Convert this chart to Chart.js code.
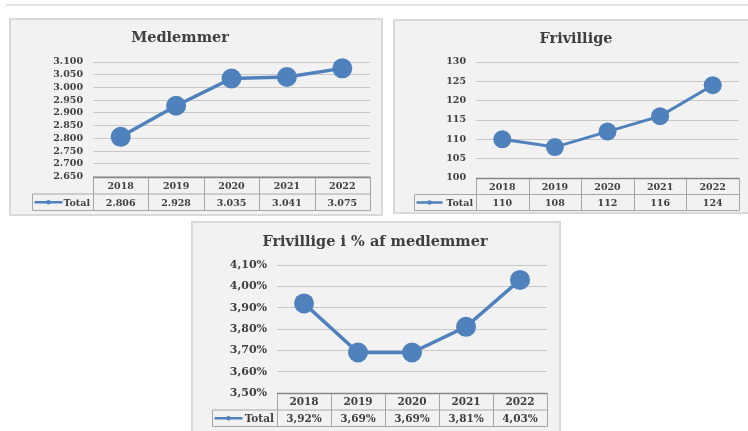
<!DOCTYPE html>
<html>
<head>
<meta charset="utf-8">
<script src="https://cdn.jsdelivr.net/npm/chart.js@4.4.1/dist/chart.umd.min.js"></script>
<style>
  html, body { margin: 0; padding: 0; background: #fff; overflow: hidden; }
  body { width: 748px; height: 431px; position: relative; }
  .rule { position: absolute; left: 6px; top: 4px; width: 742px; height: 2px; background: #e3e3e3; }
  .box { position: absolute; box-sizing: border-box; background: #f2f2f2; border: 2px solid #d9d9d9; }
  .title { position: absolute; transform: translate(-50%, -50%); white-space: nowrap;
           font: bold 14.5px Georgia, 'DejaVu Serif', serif; color: #404040; }
  canvas { position: absolute; }
</style>
</head>
<body>
<div class="rule"></div>

<div class="box" style="left:9px;top:18px;width:374px;height:198px"></div>
<div class="box" style="left:393px;top:19px;width:370px;height:195px"></div>
<div class="box" style="left:191px;top:221px;width:370px;height:220px"></div>

<canvas id="membersChart" width="370" height="194" style="left:11px;top:20px"></canvas>
<canvas id="volunteersChart" width="353" height="191" style="left:395px;top:21px"></canvas>
<canvas id="shareChart" width="366" height="208" style="left:193px;top:223px"></canvas>

<div class="title" style="left:180px;top:36px">Medlemmer</div>
<div class="title" style="left:576px;top:37px">Frivillige</div>
<div class="title" style="left:375px;top:240px">Frivillige i % af medlemmer</div>

<script>
// values
const years = ['2018', '2019', '2020', '2021', '2022'];
const seriesName = 'Total';
const members = [2806, 2928, 3035, 3041, 3075];
const volunteers = [110, 108, 112, 116, 124];
const volunteerShare = [3.92, 3.69, 3.69, 3.81, 4.03];   // percent

// y axis ranges: [min, max, step]
const membersAxis = [2650, 3100, 50];
const volunteersAxis = [100, 130, 5];
const shareAxis = [3.5, 4.1, 0.1];

const BLUE = '#4f81bd';
const TEXT = '#404040';
const GRID = '#c8c8c8';
const FONT = "Georgia, 'DejaVu Serif', serif";

function thousands(v) {
    return String(Math.round(v)).replace(/\B(?=(\d{3})+(?!\d))/g, '.');
}

function percent(v) {
    return v.toFixed(2).replace('.', ',') + '%';
}

// excel style data table drawn under the plot, columns follow the x scale
const dataTable = {
    id: 'dataTable',
    afterDraw: function(chart, args, o) {
        const ctx = chart.ctx;
        const a = chart.chartArea;
        const x = chart.scales.x;
        const ds = chart.data.datasets[0];
        const n = chart.data.labels.length;
        const band = (x.getPixelForValue(n - 1) - x.getPixelForValue(0)) / (n - 1);
        const y0 = Math.round(a.bottom) + 0.5;
        const y1 = y0 + o.rowHeight;
        const y2 = y1 + o.rowHeight;
        const lx = o.legendLeft + 0.5;

        ctx.save();
        ctx.lineWidth = 1;
        ctx.strokeStyle = o.borderColor;
        ctx.beginPath();
        for (let i = 0; i < n; i++) {
            const left = Math.round(x.getPixelForValue(i) - band / 2) + 0.5;
            ctx.moveTo(left, y0);
            ctx.lineTo(left, y2);
        }
        const right = Math.round(x.getPixelForValue(n - 1) + band / 2) + 0.5;
        ctx.moveTo(right, y0);
        ctx.lineTo(right, y2);
        ctx.moveTo(lx, y1);
        ctx.lineTo(lx, y2);
        ctx.moveTo(lx, y1);
        ctx.lineTo(right, y1);
        ctx.moveTo(lx, y2);
        ctx.lineTo(right, y2);
        ctx.stroke();

        // darker axis line on top of the table
        ctx.strokeStyle = o.axisColor;
        ctx.lineWidth = 1.5;
        ctx.beginPath();
        ctx.moveTo(Math.round(x.getPixelForValue(0) - band / 2), y0);
        ctx.lineTo(right, y0);
        ctx.stroke();

        ctx.fillStyle = TEXT;
        ctx.font = 'bold ' + o.fontSize + 'px ' + FONT;
        ctx.textAlign = 'center';
        ctx.textBaseline = 'middle';
        chart.data.labels.forEach(function(label, i) {
            const cx = x.getPixelForValue(i);
            ctx.fillText(label, cx, (y0 + y1) / 2 + 1);
            ctx.fillText(o.format(ds.data[i]), cx, (y1 + y2) / 2 + 1);
        });

        // legend key + series name
        const ly = (y1 + y2) / 2;
        ctx.strokeStyle = ds.borderColor;
        ctx.lineWidth = 2.5;
        ctx.beginPath();
        ctx.moveTo(lx + 2, ly);
        ctx.lineTo(lx + 2 + o.keyWidth, ly);
        ctx.stroke();
        ctx.fillStyle = ds.borderColor;
        ctx.beginPath();
        ctx.arc(lx + 2 + o.keyWidth / 2, ly, 2.2, 0, Math.PI * 2);
        ctx.fill();
        ctx.fillStyle = TEXT;
        ctx.textAlign = 'right';
        ctx.fillText(ds.label, x.getPixelForValue(0) - band / 2 - 3, ly + 1);
        ctx.restore();
    }
};

function makeChart(id, values, axis, format, cfg) {
    const canvas = document.getElementById(id);
    return new Chart(canvas.getContext('2d'), {
        type: 'line',
        data: {
            labels: years,
            datasets: [{
                label: seriesName,
                data: values,
                borderColor: BLUE,
                backgroundColor: BLUE,
                pointBackgroundColor: BLUE,
                pointBorderColor: BLUE,
                pointBorderWidth: 0,
                pointRadius: cfg.radius,
                pointHoverRadius: cfg.radius,
                borderWidth: cfg.lineWidth,
                tension: 0,
                clip: false
            }]
        },
        options: {
            responsive: false,
            animation: false,
            devicePixelRatio: 1,
            events: [],
            layout: { padding: { left: 0, top: cfg.top, right: cfg.right, bottom: cfg.bottom } },
            plugins: {
                legend: { display: false },
                tooltip: { enabled: false },
                dataTable: {
                    rowHeight: cfg.rowHeight,
                    legendLeft: cfg.legendLeft,
                    keyWidth: cfg.keyWidth,
                    fontSize: cfg.cellFont,
                    borderColor: '#a6a6a6',
                    axisColor: '#868686',
                    format: format
                }
            },
            scales: {
                x: { type: 'category', display: false, offset: true },
                y: {
                    min: axis[0],
                    max: axis[1],
                    border: { display: false },
                    grid: { color: GRID, drawTicks: false },
                    ticks: {
                        stepSize: axis[2],
                        autoSkip: false,
                        padding: 10,
                        color: TEXT,
                        font: { family: FONT, weight: 'bold', size: cfg.tickFont },
                        callback: function(v) { return format(v); }
                    },
                    afterFit: function(scale) { scale.width = cfg.axisWidth; }
                }
            }
        },
        plugins: [dataTable]
    });
}

makeChart('membersChart', members, membersAxis, thousands, {
    axisWidth: 82, top: 42, right: 11, bottom: 37.5, rowHeight: 16.5,
    legendLeft: 21, keyWidth: 28, tickFont: 9.5, cellFont: 9.5, radius: 10, lineWidth: 3.5
});

makeChart('volunteersChart', volunteers, volunteersAxis, thousands, {
    axisWidth: 81, top: 41, right: 3, bottom: 34, rowHeight: 16,
    legendLeft: 19, keyWidth: 26, tickFont: 9.5, cellFont: 9.5, radius: 9, lineWidth: 3
});

makeChart('shareChart', volunteerShare, shareAxis, percent, {
    axisWidth: 84, top: 42, right: 12, bottom: 38, rowHeight: 16.5,
    legendLeft: 19, keyWidth: 28, tickFont: 11, cellFont: 10.5, radius: 10, lineWidth: 3.5
});
</script>
</body>
</html>
